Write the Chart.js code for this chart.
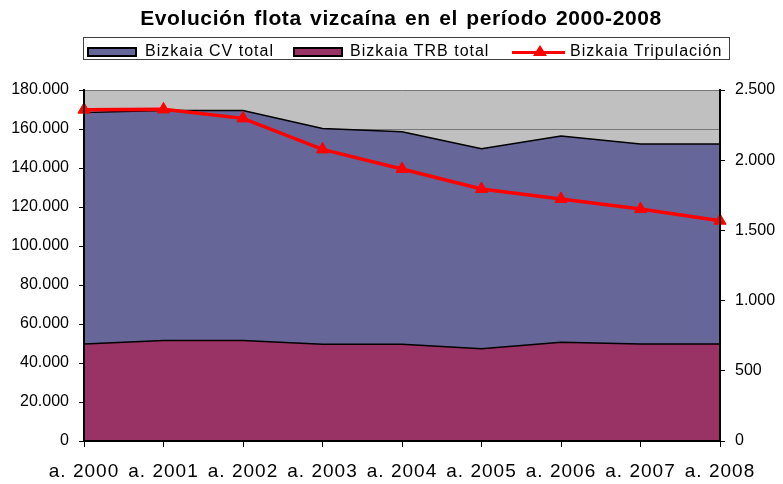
<!DOCTYPE html>
<html>
<head>
<meta charset="utf-8">
<script src="https://cdn.jsdelivr.net/npm/chart.js@4.4.0/dist/chart.umd.min.js"></script>
<style>
  html, body { margin: 0; padding: 0; background: #fff; }
  #wrap { position: relative; width: 783px; height: 484px; font-family: "Liberation Sans", Arial, sans-serif; }
  canvas { position: absolute; left: 0; top: 0; }
  #title { position: absolute; left: 0; top: 6px; width: 802px; text-align: center; font-weight: bold; font-size: 21px; letter-spacing: 0.6px; word-spacing: 2px; color: #000; white-space: nowrap; }
  #legend { position: absolute; left: 83px; top: 37px; width: 647px; height: 23px; border: 1px solid #404040; box-sizing: border-box; }
  .sw { position: absolute; top: 9px; width: 46px; height: 6px; border: 2px solid #000; box-sizing: content-box; }
  .lt { position: absolute; top: 4px; font-size: 16px; letter-spacing: 1px; color: #000; white-space: nowrap; line-height: 18px; }
  #ln { position: absolute; top: 13px; height: 3px; background: #ff0000; width: 53px; }
  #tri { position: absolute; width: 0; height: 0; border-left: 7px solid transparent; border-right: 7px solid transparent; border-bottom: 11px solid #ff0000; }
</style>
</head>
<body>
<div id="wrap">
  <canvas id="c" width="783" height="484"></canvas>
  <div id="title">Evolución flota vizcaína en el período 2000-2008</div>
  <div id="legend"></div>
</div>
<script>
const categories = ['a. 2000','a. 2001','a. 2002','a. 2003','a. 2004','a. 2005','a. 2006','a. 2007','a. 2008'];
const cvTotal = [168400, 169500, 169500, 160300, 158600, 149900, 156400, 152300, 152300];
const trbTotal = [49700, 51600, 51600, 49600, 49600, 47300, 50600, 49700, 49700];
const tripulacion = [2360, 2362, 2298, 2077, 1937, 1795, 1724, 1652, 1569];
const leftTickLabels = ['0','20.000','40.000','60.000','80.000','100.000','120.000','140.000','160.000','180.000'];
const rightTickLabels = ['0','500','1.000','1.500','2.000','2.500'];
const seriesNames = ['Bizkaia CV total','Bizkaia TRB total','Bizkaia Tripulación'];

// HTML legend
const lg = document.getElementById('legend');
function addSwatch(left, color, textLeft, text) {
  const s = document.createElement('div'); s.className = 'sw'; s.style.left = left + 'px'; s.style.background = color; lg.appendChild(s);
  const t = document.createElement('div'); t.className = 'lt'; t.style.left = textLeft + 'px'; t.textContent = text; lg.appendChild(t);
}
addSwatch(3, '#666699', 61, seriesNames[0]);
addSwatch(209, '#993366', 266, seriesNames[1]);
(function(){
  const l = document.createElement('div'); l.id = 'ln'; l.style.left = '428px'; lg.appendChild(l);
  const t = document.createElement('div'); t.id = 'tri'; t.style.left = '449px'; t.style.top = '7px'; lg.appendChild(t);
  const tx = document.createElement('div'); tx.className = 'lt'; tx.style.left = '486px'; tx.textContent = seriesNames[2]; lg.appendChild(tx);
})();

Chart.defaults.font.family = '"Liberation Sans", Arial, sans-serif';
Chart.defaults.color = '#000';

const LS = { x: '1px', y: '0px', y1: '0px' };
const bgPlugin = {
  id: 'bg',
  beforeDraw(chart) {
    const a = chart.chartArea, ctx = chart.ctx;
    ctx.save();
    ctx.fillStyle = '#c0c0c0';
    ctx.fillRect(a.left, a.top, a.right - a.left, a.bottom - a.top);
    ctx.restore();
    Object.keys(LS).forEach(id => {
      const s = chart.scales[id];
      if (s && !s._lsWrapped) {
        const orig = s.drawLabels.bind(s);
        s.drawLabels = function (ca) {
          const c = this.ctx; c.save(); c.letterSpacing = LS[id]; orig(ca); c.restore();
        };
        s._lsWrapped = true;
      }
    });
  }
};

new Chart(document.getElementById('c'), {
  type: 'line',
  data: {
    labels: categories,
    datasets: [
      {
        label: seriesNames[2], data: tripulacion, yAxisID: 'y1', order: 0,
        borderColor: '#ff0000', backgroundColor: '#ff0000', borderWidth: 3.5,
        pointStyle: 'triangle', pointRadius: 7, pointBorderWidth: 1, pointBorderColor: '#ff0000',
        fill: false, tension: 0, clip: false
      },
      {
        label: seriesNames[1], data: trbTotal, yAxisID: 'y', order: 1,
        borderColor: '#000', backgroundColor: '#993366', borderWidth: 1.5,
        pointRadius: 0, fill: 'origin', tension: 0
      },
      {
        label: seriesNames[0], data: cvTotal, yAxisID: 'y', order: 2,
        borderColor: '#000', backgroundColor: '#666699', borderWidth: 1.5,
        pointRadius: 0, fill: 'origin', tension: 0
      }
    ]
  },
  options: {
    responsive: false,
    animation: false,
    layout: { padding: { top: 90, left: 0, right: 0, bottom: 0 } },
    plugins: { legend: { display: false }, title: { display: false }, tooltip: { enabled: false } },
    scales: {
      x: {
        type: 'category', offset: false,
        grid: { drawOnChartArea: false, tickLength: 6, color: '#000', tickColor: '#000', lineWidth: 1 },
        border: { color: '#000', width: 2, z: 1 },
        ticks: { font: { size: 19 }, padding: 13, maxRotation: 0, autoSkip: false, color: '#000' },
        afterFit(s) { s.height = 43; }
      },
      y: {
        position: 'left', min: 0, max: 180000,
        ticks: { stepSize: 20000, font: { size: 16 }, padding: 10, color: '#000',
          callback: (v, i) => leftTickLabels[i] },
        grid: { color: '#777', tickColor: '#000', tickLength: 5, lineWidth: 1 },
        border: { color: '#000', width: 2, z: 1 },
        afterFit(s) { s.width = 84; }
      },
      y1: {
        position: 'right', min: 0, max: 2500,
        ticks: { stepSize: 500, font: { size: 16 }, padding: 10, color: '#000',
          callback: (v, i) => rightTickLabels[i] },
        grid: { drawOnChartArea: false, tickColor: '#000', color: '#000', tickLength: 5 },
        border: { color: '#000', width: 2, z: 1 },
        afterFit(s) { s.width = 63; }
      }
    }
  },
  plugins: [bgPlugin]
});
</script>
</body>
</html>
